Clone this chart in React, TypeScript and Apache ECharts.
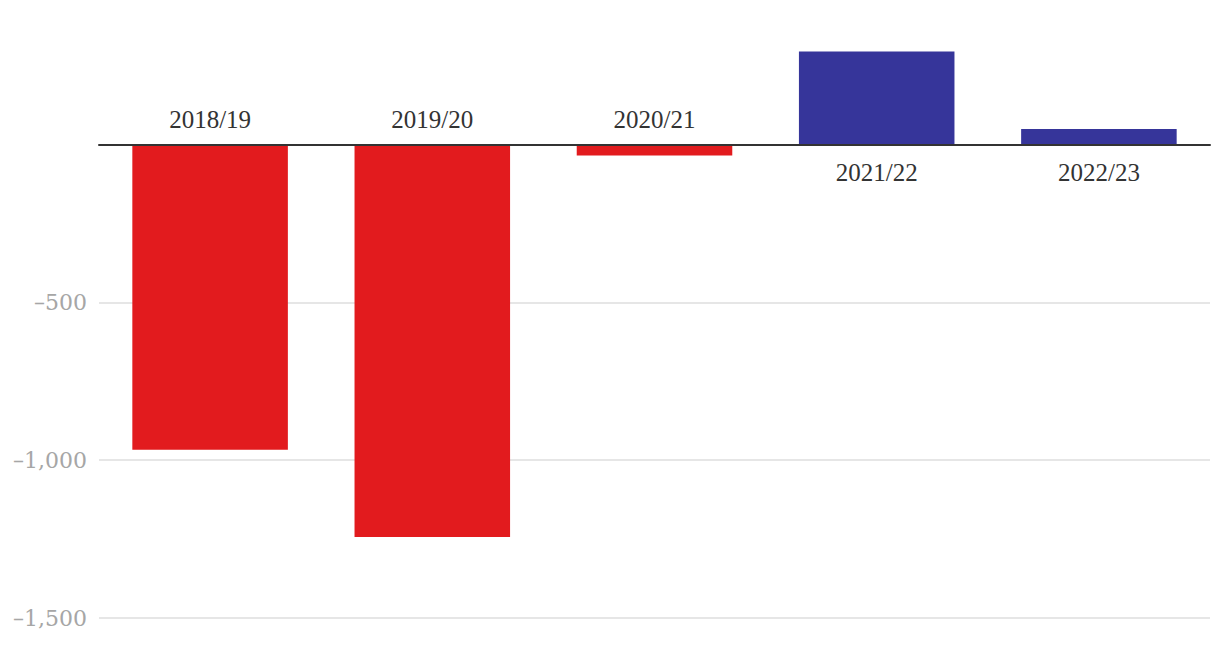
import React, { useEffect, useRef } from "react";
import * as echarts from "echarts";

const categories = ["2018/19", "2019/20", "2020/21", "2021/22", "2022/23"];
const values = [-967, -1243, -34, 295, 50];
const yTicks = [-1500, -1000, -500, 0];

const RED = "#e21b1e";
const BLUE = "#36359a";

function fmt(v: number): string {
  const abs = Math.abs(v).toLocaleString("en-US");
  return v < 0 ? "\u2013" + abs : abs;
}

export default function App() {
  const ref = useRef<HTMLDivElement>(null);
  useEffect(() => {
    if (!ref.current) return;
    const chart = echarts.init(ref.current, null, { renderer: "svg" });
    const data = values.map((v) => ({
      value: v,
      itemStyle: { color: v < 0 ? RED : BLUE },
      label: {
        position: v < 0 ? "top" : "bottom",
        distance: v < 0 ? 13 : 15,
      },
    }));
    chart.setOption({
      animation: false,
      grid: { left: 99, right: 10, top: 50, bottom: 34, containLabel: false },
      xAxis: {
        type: "category",
        data: categories,
        axisLine: { show: true, onZero: true, lineStyle: { color: "#333333", width: 2 } },
        axisTick: { show: false },
        axisLabel: { show: false },
        splitLine: { show: false },
        z: 5,
      },
      yAxis: {
        type: "value",
        min: yTicks[0],
        max: 300,
        interval: 500,
        axisLine: { show: false },
        axisTick: { show: false },
        splitLine: {
          show: true,
          showMaxLine: false,
          lineStyle: { color: "#e6e6e6", width: 2 },
        },
        axisLabel: {
          showMaxLabel: false,
          margin: 12,
          color: "#a6a6a6",
          fontFamily: "DejaVu Serif",
          fontSize: 22,
          formatter: (v: number) => (v < 0 && yTicks.includes(v) ? fmt(v) : ""),
        },
      },
      series: [
        {
          type: "bar",
          data,
          barCategoryGap: "30%",
          label: {
            show: true,
            formatter: "{b}",
            color: "#333333",
            fontFamily: "Liberation Serif",
            fontSize: 25,
          },
          markLine: {
            silent: true,
            symbol: "none",
            label: { show: false },
            lineStyle: { color: "#333333", width: 2, type: "solid" },
            data: [{ yAxis: 0 }],
          },
        },
      ],
    });
    return () => chart.dispose();
  }, []);
  return (
    <div
      ref={ref}
      style={{ position: "fixed", left: 0, top: 0, width: 1220, height: 652, background: "#fff" }}
    />
  );
}
